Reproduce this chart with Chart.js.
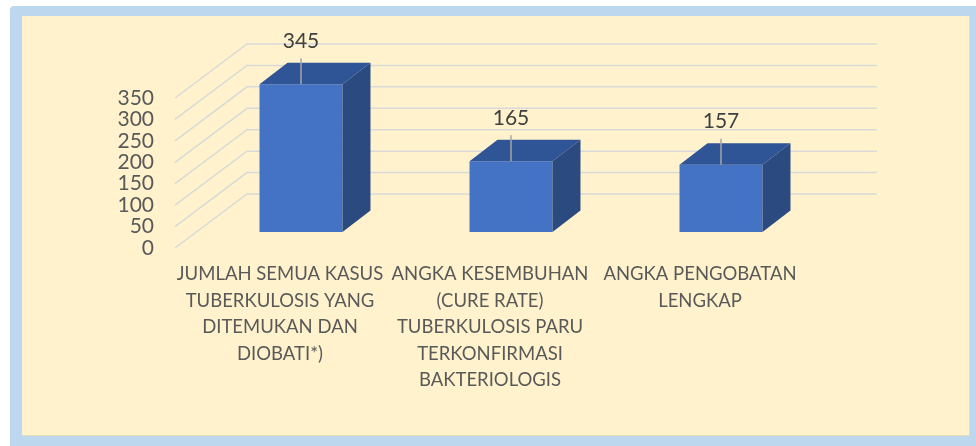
<!DOCTYPE html>
<html>
<head>
<meta charset="utf-8">
<script src="https://cdn.jsdelivr.net/npm/chart.js@4"></script>
<style>
  html,body{margin:0;padding:0;background:#fff;}
  body{width:976px;height:446px;position:relative;overflow:hidden;}
  #frame{position:absolute;left:10px;top:6px;right:0;bottom:0;background:#BDD7EE;border-top-left-radius:4px;}
  #panel{position:absolute;left:22px;top:16px;width:947px;height:419px;background:#FFF2CC;box-shadow:1px 1px 0 #E9DDB8;}
  #c{position:absolute;left:0;top:0;}
</style>
</head>
<body>
<div id="frame"></div>
<div id="panel"></div>
<canvas id="c" width="976" height="446"></canvas>
<script>
// data
const categories = [
  ["JUMLAH SEMUA KASUS","TUBERKULOSIS YANG","DITEMUKAN DAN","DIOBATI*)"],
  ["ANGKA KESEMBUHAN","(CURE RATE)","TUBERKULOSIS PARU","TERKONFIRMASI","BAKTERIOLOGIS"],
  ["ANGKA PENGOBATAN","LENGKAP"]
];
const values = [345, 165, 157];
const yMin = 0, yMax = 350, yStep = 50;

// 3d look
const DEPTH_X = 28, DEPTH_Y = -21.5;     // bar depth
const WALL_FRONT = {dx:-21, dy:16};      // front edge of floor/side wall
const WALL_BACK = {dx:51, dy:-38};       // back wall
const FONT = "Lato";

// grid on the back wall + side wall
const gridPlugin = {
  id:"grid3d",
  beforeDatasetsDraw(chart){
    const {ctx, chartArea:a, scales:{y}} = chart;
    ctx.save();
    ctx.strokeStyle = "#D9D9D9";
    ctx.lineWidth = 1.5;
    y.ticks.forEach(t=>{
      const py = y.getPixelForValue(t.value);
      ctx.beginPath();
      ctx.moveTo(a.left+WALL_FRONT.dx, py+WALL_FRONT.dy);
      ctx.lineTo(a.left+WALL_BACK.dx, py+WALL_BACK.dy);
      ctx.lineTo(a.right+WALL_BACK.dx, py+WALL_BACK.dy);
      ctx.stroke();
    });
    ctx.restore();
  }
};

// top + side faces, and value labels with leader lines
const barPlugin = {
  id:"bar3d",
  afterDatasetsDraw(chart){
    const ctx = chart.ctx;
    const meta = chart.getDatasetMeta(0);
    ctx.save();
    meta.data.forEach((bar,i)=>{
      const {x, y, base, width} = bar.getProps(["x","y","base","width"], true);
      const l = x-width/2, r = x+width/2;
      // top
      ctx.fillStyle = "#2F5597";
      ctx.beginPath();
      ctx.moveTo(l,y); ctx.lineTo(l+DEPTH_X,y+DEPTH_Y); ctx.lineTo(r+DEPTH_X,y+DEPTH_Y); ctx.lineTo(r,y);
      ctx.closePath(); ctx.fill();
      // side
      ctx.fillStyle = "#2A4A80";
      ctx.beginPath();
      ctx.moveTo(r,y); ctx.lineTo(r+DEPTH_X,y+DEPTH_Y); ctx.lineTo(r+DEPTH_X,base+DEPTH_Y); ctx.lineTo(r,base);
      ctx.closePath(); ctx.fill();

      // label
      const ly = y-43;
      ctx.strokeStyle = "#A6A6A6";
      ctx.lineWidth = 1.5;
      ctx.beginPath();
      ctx.moveTo(x, ly+17); ctx.lineTo(x, y);
      ctx.stroke();
      ctx.fillStyle = "#404040";
      ctx.font = "21px " + FONT;
      ctx.textAlign = "center";
      ctx.textBaseline = "middle";
      ctx.fillText(String(values[i]), x, ly);
    });
    ctx.restore();
  }
};

new Chart(document.getElementById("c"), {
  type:"bar",
  data:{
    labels:categories,
    datasets:[{
      data:values,
      backgroundColor:"#4472C4",
      borderWidth:0,
      categoryPercentage:1,
      barPercentage:0.395
    }]
  },
  options:{
    responsive:false,
    animation:false,
    devicePixelRatio:1,
    layout:{padding:{left:0, top:82, right:150, bottom:0}},
    plugins:{legend:{display:false}, tooltip:{enabled:false}},
    scales:{
      x:{
        grid:{display:false, drawTicks:false},
        border:{display:false},
        afterFit(s){ s.height = 214; },
        ticks:{
          autoSkip:false, maxRotation:0, minRotation:0,
          padding:29, labelOffset:-21,
          color:"#595959",
          font:{family:FONT, size:18.5, lineHeight:"26.5px"}
        }
      },
      y:{
        min:yMin, max:yMax,
        grid:{display:false, drawTicks:false},
        border:{display:false},
        afterFit(s){ s.width = 196; },
        ticks:{
          stepSize:yStep, autoSkip:false, padding:42, labelOffset:16,
          color:"#595959",
          font:{family:FONT, size:21, lineHeight:0.8}
        }
      }
    }
  },
  plugins:[gridPlugin, barPlugin]
});
</script>
</body>
</html>
